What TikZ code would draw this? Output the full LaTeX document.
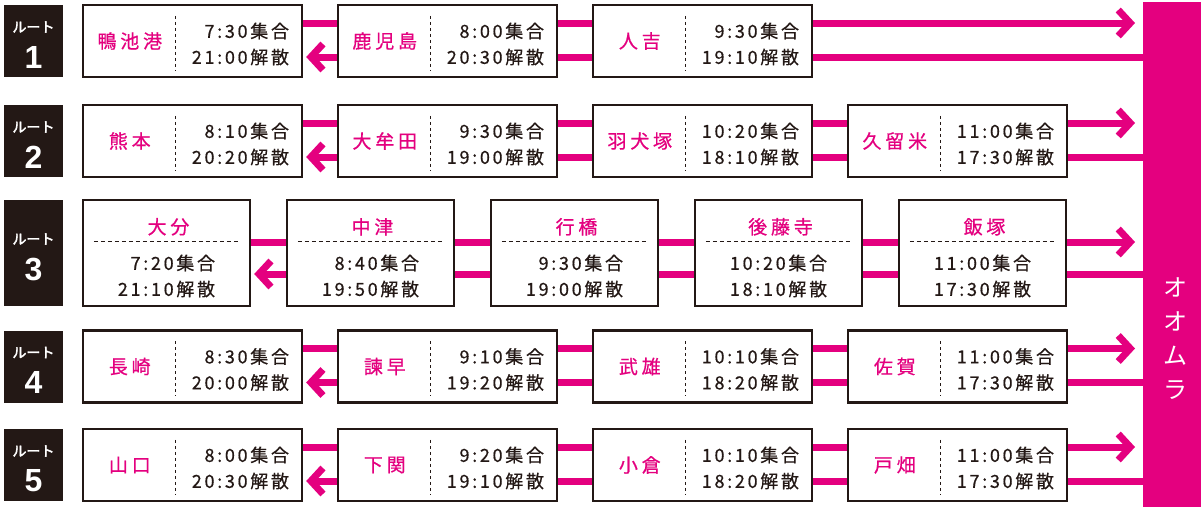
\documentclass[tikz,border=0pt]{standalone}
\usepackage{fontspec}
\setmainfont{Noto Sans CJK JP}
\newfontfamily\stationfont{Noto Sans CJK JP}[LetterSpace=20, FakeBold=0.6]
\newfontfamily\timefont{Noto Sans CJK JP}[LetterSpace=15, FakeBold=0.6]
\newfontfamily\routefont{Noto Sans CJK JP}[FakeBold=2.5]
\newfontfamily\numfont{Liberation Sans}
\usetikzlibrary{arrows.meta, calc, positioning}
\definecolor{omurapink}{HTML}{E4007F}
\definecolor{inkblack}{HTML}{231815}
\tikzset{
	stop-node/.style={
		rectangle,
		draw=inkblack, line width=2.4pt,
		fill=white,
		minimum width=219pt,
		minimum height=72pt,
		inner sep=0pt,
		anchor=center
	},
	stop-node-tall/.style={
		stop-node,
		minimum width=167pt,
		minimum height=106pt
	},
	route-node/.style={
		rectangle,
		fill=inkblack,
		minimum width=59pt,
		inner sep=0pt
	},
	route-title/.style={text=white, inner sep=0pt, font=\routefont\fontsize{14}{14}\selectfont},
	route-num/.style={text=white, inner sep=0pt, font=\numfont\bfseries\fontsize{32}{32}\selectfont},
	station-text/.style={text=omurapink, inner sep=0pt, font=\stationfont\fontsize{19}{19}\selectfont},
	time-text/.style={text=inkblack, align=right, inner sep=0pt, font=\timefont\fontsize{18}{26}\selectfont},
	sep-line/.style={draw=inkblack, line width=1.2pt, dash pattern=on 3pt off 3pt},
	route-line/.style={draw=omurapink, line width=7pt},
	route-arrow/.style={route-line, -{Straight Barb[sharp, length=12pt, width=26pt]}},
	return-arrow/.style={route-arrow, shorten >=3pt},
}
% box with station on the left, times on the right
\newcommand{\stopbox}[5]{%
	\node (#1) [stop-node] at (#2) {};
	\node (#1-name) [station-text] at ([xshift=48pt]#1.west) {#3};
	\node (#1-time) [time-text, anchor=east] at ([xshift=-14pt,yshift=-3pt]#1.east) {#4集合\\#5解散};
	\draw [sep-line] ([xshift=94pt,yshift=-12pt]#1.north west) -- ([xshift=94pt,yshift=8pt]#1.south west);
}
% box with station on top, times below
\newcommand{\tallbox}[5]{%
	\node (#1) [stop-node-tall] at (#2) {};
	\node (#1-name) [station-text] at ([xshift=2pt,yshift=-28pt]#1.north) {#3};
	\draw [sep-line, dash pattern=on 4pt off 3pt] ([xshift=12pt,yshift=-43pt]#1.north west) -- ([xshift=-12pt,yshift=-43pt]#1.north east);
	\node (#1-time) [time-text] at ([yshift=-23pt]#1.center) {#4集合\\#5解散};
}
\newcommand{\routelabel}[4]{%
	\node (#1) [route-node, minimum height=#3pt] at (33.5,#2) {};
	\node (#1-title) [route-title] at ([yshift=14pt]#1.center) {ルート};
	\node (#1-num) [route-num] at ([yshift=-16pt]#1.center) {#4};
}

\begin{document}
\begin{tikzpicture}[x=1pt, y=-1pt]
	\useasboundingbox (0,0) rectangle (1201,507);

	\node (omura) [fill=omurapink, minimum width=58pt, minimum height=505pt, inner sep=0pt] at (1172,254.5) {};
	\node (omura-text) [text=white, align=center, inner sep=0pt, font=\fontsize{24}{34}\selectfont] at (1175,339) {オ\\オ\\ム\\ラ};

	% route 1
	\routelabel{route1}{41}{72}{1}
	\stopbox{r1a}{192.5,41}{鴨池港}{7:30}{21:00}
	\stopbox{r1b}{447.5,41}{鹿児島}{8:00}{20:30}
	\stopbox{r1c}{702.5,41}{人吉}{9:30}{19:10}

	% route 2
	\routelabel{route2}{141}{72}{2}
	\stopbox{r2a}{192.5,141}{熊本}{8:10}{20:20}
	\stopbox{r2b}{447.5,141}{大牟田}{9:30}{19:00}
	\stopbox{r2c}{702.5,141}{羽犬塚}{10:20}{18:10}
	\stopbox{r2d}{957.5,141}{久留米}{11:00}{17:30}

	% route 3
	\routelabel{route3}{253}{106}{3}
	\tallbox{r3a}{166.5,253}{大分}{7:20}{21:10}
	\tallbox{r3b}{370.5,253}{中津}{8:40}{19:50}
	\tallbox{r3c}{574.5,253}{行橋}{9:30}{19:00}
	\tallbox{r3d}{778.5,253}{後藤寺}{10:20}{18:10}
	\tallbox{r3e}{982.5,253}{飯塚}{11:00}{17:30}

	% route 4
	\routelabel{route4}{366.5}{72}{4}
	\stopbox{r4a}{192.5,366.5}{長崎}{8:30}{20:00}
	\stopbox{r4b}{447.5,366.5}{諫早}{9:10}{19:20}
	\stopbox{r4c}{702.5,366.5}{武雄}{10:10}{18:20}
	\stopbox{r4d}{957.5,366.5}{佐賀}{11:00}{17:30}

	% route 5
	\routelabel{route5}{465}{72}{5}
	\stopbox{r5a}{192.5,465}{山口}{8:00}{20:30}
	\stopbox{r5b}{447.5,465}{下関}{9:20}{19:10}
	\stopbox{r5c}{702.5,465}{小倉}{10:10}{18:20}
	\stopbox{r5d}{957.5,465}{戸畑}{11:00}{17:30}

	% arrow ends and bar points
	\foreach \r/\last in {r1/r1c, r2/r2d, r3/r3e, r4/r4d, r5/r5d} {
		\coordinate (\r-end) at (1135,0 |- \last.center);
		\coordinate (\r-bar) at (omura.west |- \last.center);
	}

	% lines between the stops
	\foreach \from/\to in {r1a/r1b, r1b/r1c, r2a/r2b, r2b/r2c, r2c/r2d, r4a/r4b, r4b/r4c, r4c/r4d, r5a/r5b, r5b/r5c, r5c/r5d}
		\draw [route-line] ([yshift=18pt]\from.east) -- ([yshift=18pt]\to.west);
	\foreach \from/\to in {r1c/r1b, r2c/r2b, r2d/r2c, r4c/r4b, r4d/r4c, r5c/r5b, r5d/r5c}
		\draw [route-line] ([yshift=-16pt]\from.west) -- ([yshift=-16pt]\to.east);
	\foreach \from/\to in {r1b/r1a, r2b/r2a, r4b/r4a, r5b/r5a}
		\draw [return-arrow] ([yshift=-16pt]\from.west) -- ([yshift=-16pt]\to.east);
	\foreach \last/\r in {r1c/r1, r2d/r2, r4d/r4, r5d/r5} {
		\draw [route-arrow] ([yshift=18pt]\last.east) -- ([yshift=18pt]\r-end);
		\draw [route-line] ([yshift=-16pt]\r-bar) -- ([yshift=-16pt]\last.east);
	}

	% route 3 lines
	\foreach \from/\to in {r3a/r3b, r3b/r3c, r3c/r3d, r3d/r3e}
		\draw [route-line] ([yshift=11pt]\from.east) -- ([yshift=11pt]\to.west);
	\foreach \from/\to in {r3c/r3b, r3d/r3c, r3e/r3d}
		\draw [route-line] ([yshift=-21pt]\from.west) -- ([yshift=-21pt]\to.east);
	\draw [return-arrow] ([yshift=-21pt]r3b.west) -- ([yshift=-21pt]r3a.east);
	\draw [route-arrow] ([yshift=11pt]r3e.east) -- ([yshift=11pt]r3-end);
	\draw [route-line] ([yshift=-21pt]r3-bar) -- ([yshift=-21pt]r3e.east);
\end{tikzpicture}
\end{document}
